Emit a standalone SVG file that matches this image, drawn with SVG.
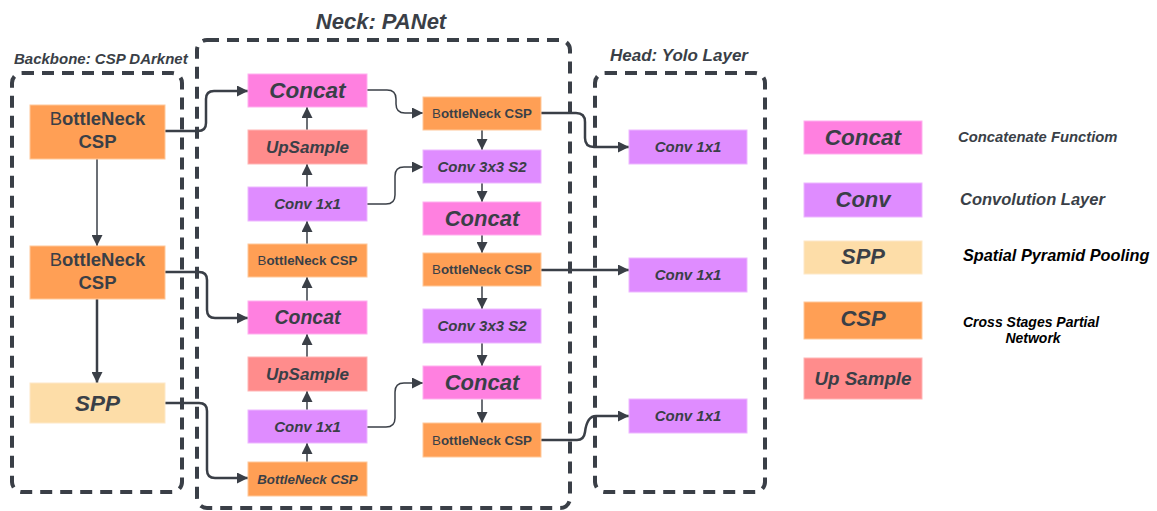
<svg xmlns="http://www.w3.org/2000/svg" width="1157" height="511" viewBox="0 0 1157 511">
<defs>
<style>
.grp{fill:none;stroke:#3a3f47;stroke-width:4;stroke-dasharray:12 8;}
.ttl{font-family:"Liberation Sans",Arial,sans-serif;font-style:italic;font-weight:bold;fill:#3a3f47;}
.t{font-family:"Liberation Sans",Arial,sans-serif;font-weight:bold;fill:#3a3f47;text-anchor:middle;}
.it{font-style:italic;}
.csp{fill:#ff9f55;stroke:#ffc89a;stroke-width:1;}
.cat{fill:#ff80e0;stroke:#ffb0ef;stroke-width:1;}
.cnv{fill:#df8cff;stroke:#edb8ff;stroke-width:1;}
.ups{fill:#ff8c8c;stroke:#ffb5b5;stroke-width:1;}
.spp{fill:#fddda8;stroke:#fde8c8;stroke-width:1;}
.thick{fill:none;stroke:#3a3f47;stroke-width:2.5;}
.thin{fill:none;stroke:#3a3f47;stroke-width:1.5;}
.lg{font-family:"Liberation Sans",Arial,sans-serif;font-style:italic;font-weight:bold;}
</style>
<marker id="ah" viewBox="0 0 10 10" refX="10" refY="5" markerWidth="14" markerHeight="11" markerUnits="userSpaceOnUse" orient="auto"><path d="M0,0 L10,5 L0,10 Z" fill="#3a3f47"/></marker>
<marker id="ahs" viewBox="0 0 10 10" refX="10" refY="5" markerWidth="13" markerHeight="11" markerUnits="userSpaceOnUse" orient="auto"><path d="M0,0 L10,5 L0,10 Z" fill="#3a3f47"/></marker>
</defs>
<rect width="1157" height="511" fill="#ffffff"/>

<g id="group-backbone">
<rect class="grp" x="12" y="73" width="170" height="419" rx="10"/>
<text class="ttl" x="14" y="64" font-size="15">Backbone: CSP DArknet</text>
</g>
<g id="group-neck">
<rect class="grp" x="197" y="40" width="373" height="468" rx="10"/>
<text class="ttl" x="381" y="29" font-size="22" text-anchor="middle">Neck: PANet</text>
</g>
<g id="group-head">
<rect class="grp" x="595" y="73" width="170" height="419" rx="10"/>
<text class="ttl" x="679" y="61" font-size="17" text-anchor="middle">Head: Yolo Layer</text>
</g>

<g id="connectors">
<line class="thin" x1="97" y1="159" x2="97" y2="246" marker-end="url(#ahs)"/>
<line class="thick" x1="97" y1="299" x2="97" y2="383" marker-end="url(#ah)"/>
<path class="thick" d="M165,131 H198 Q206,131 206,123 V99 Q206,91 214,91 H248" marker-end="url(#ah)"/>
<path class="thick" d="M165,272 H199 Q207,272 207,280 V310 Q207,318 215,318 H248" marker-end="url(#ah)"/>
<path class="thick" d="M165,403 H199 Q207,403 207,411 V470 Q207,478 215,478 H248" marker-end="url(#ah)"/>
<line class="thin" x1="307" y1="462" x2="307" y2="443" marker-end="url(#ahs)"/>
<line class="thin" x1="307" y1="410" x2="307" y2="391" marker-end="url(#ahs)"/>
<line class="thin" x1="307" y1="357" x2="307" y2="334" marker-end="url(#ahs)"/>
<line class="thin" x1="307" y1="301" x2="307" y2="277" marker-end="url(#ahs)"/>
<line class="thin" x1="307" y1="244" x2="307" y2="221" marker-end="url(#ahs)"/>
<line class="thin" x1="307" y1="187" x2="307" y2="164" marker-end="url(#ahs)"/>
<line class="thin" x1="307" y1="130" x2="307" y2="107" marker-end="url(#ahs)"/>
<path class="thin" d="M367,90 H387 Q396,90 396,99 V104 Q396,113 405,113 H423" marker-end="url(#ahs)"/>
<path class="thin" d="M367,204 H386 Q395,204 395,195 V176 Q395,167 404,167 H423" marker-end="url(#ahs)"/>
<path class="thin" d="M367,427 H386 Q395,427 395,418 V392 Q395,383 404,383 H423" marker-end="url(#ahs)"/>
<line class="thin" x1="482" y1="130" x2="482" y2="150" marker-end="url(#ahs)"/>
<line class="thin" x1="482" y1="183" x2="482" y2="202" marker-end="url(#ahs)"/>
<line class="thin" x1="482" y1="235" x2="482" y2="253" marker-end="url(#ahs)"/>
<line class="thin" x1="482" y1="286" x2="482" y2="309" marker-end="url(#ahs)"/>
<line class="thin" x1="482" y1="343" x2="482" y2="366" marker-end="url(#ahs)"/>
<line class="thin" x1="482" y1="399" x2="482" y2="423" marker-end="url(#ahs)"/>
<path class="thick" d="M541,113 H576 Q585,113 585,122 V138 Q585,147 594,147 H629" marker-end="url(#ah)"/>
<line class="thick" x1="541" y1="270" x2="629" y2="270" marker-end="url(#ah)"/>
<path class="thick" d="M541,440 H577 Q584,440 585,432 Q587,416 596,416 H629" marker-end="url(#ah)"/>
</g>

<g id="node-bb-csp1">
<rect class="csp" x="30" y="105" width="135" height="54"/>
<text class="t" x="97.5" y="125" font-size="18.5"><tspan font-weight="normal">B</tspan>ottleNeck</text>
<text class="t" x="97.5" y="148" font-size="18.5">CSP</text>
</g>
<g id="node-bb-csp2">
<rect class="csp" x="30" y="246" width="135" height="53"/>
<text class="t" x="97.5" y="266" font-size="18.5"><tspan font-weight="normal">B</tspan>ottleNeck</text>
<text class="t" x="97.5" y="289" font-size="18.5">CSP</text>
</g>
<g id="node-bb-spp">
<rect class="spp" x="30" y="383" width="135" height="40"/>
<text class="t it" x="97.5" y="411" font-size="22.5">SPP</text>
</g>

<g id="node-n-concat1">
<rect class="cat" x="248" y="74" width="119" height="33"/>
<text class="t it" x="307.5" y="98" font-size="22.5">Concat</text>
</g>
<g id="node-n-ups1">
<rect class="ups" x="248" y="130" width="119" height="34"/>
<text class="t it" x="307.5" y="153" font-size="17">UpSample</text>
</g>
<g id="node-n-conv1">
<rect class="cnv" x="248" y="187" width="119" height="34"/>
<text class="t it" x="307.5" y="209" font-size="15">Conv 1x1</text>
</g>
<g id="node-n-csp1">
<rect class="csp" x="248" y="244" width="119" height="33"/>
<text class="t" x="307.5" y="265" font-size="13.3"><tspan font-weight="normal">B</tspan>ottleNeck CSP</text>
</g>
<g id="node-n-concat2">
<rect class="cat" x="248" y="301" width="119" height="33"/>
<text class="t it" x="307.5" y="324" font-size="19.5">Concat</text>
</g>
<g id="node-n-ups2">
<rect class="ups" x="248" y="357" width="119" height="34"/>
<text class="t it" x="307.5" y="380" font-size="17">UpSample</text>
</g>
<g id="node-n-conv2">
<rect class="cnv" x="248" y="410" width="119" height="33"/>
<text class="t it" x="307.5" y="432" font-size="15">Conv 1x1</text>
</g>
<g id="node-n-csp2">
<rect class="csp" x="248" y="462" width="119" height="34"/>
<text class="t it" x="307.5" y="484" font-size="13.3">BottleNeck CSP</text>
</g>

<g id="node-n-csp3">
<rect class="csp" x="423" y="97" width="118" height="33"/>
<text class="t" x="482" y="118" font-size="13.3"><tspan font-weight="normal">B</tspan>ottleNeck CSP</text>
</g>
<g id="node-n-conv3">
<rect class="cnv" x="423" y="150" width="118" height="33"/>
<text class="t it" x="482" y="172" font-size="15">Conv 3x3 S2</text>
</g>
<g id="node-n-concat3">
<rect class="cat" x="423" y="202" width="118" height="33"/>
<text class="t it" x="482" y="226" font-size="22">Concat</text>
</g>
<g id="node-n-csp4">
<rect class="csp" x="423" y="253" width="118" height="33"/>
<text class="t" x="482" y="274" font-size="13.3"><tspan font-weight="normal">B</tspan>ottleNeck CSP</text>
</g>
<g id="node-n-conv4">
<rect class="cnv" x="423" y="309" width="118" height="34"/>
<text class="t it" x="482" y="331" font-size="15">Conv 3x3 S2</text>
</g>
<g id="node-n-concat4">
<rect class="cat" x="423" y="366" width="118" height="33"/>
<text class="t it" x="482" y="390" font-size="22">Concat</text>
</g>
<g id="node-n-csp5">
<rect class="csp" x="423" y="423" width="118" height="34"/>
<text class="t" x="482" y="445" font-size="13.3"><tspan font-weight="normal">B</tspan>ottleNeck CSP</text>
</g>

<g id="node-h-conv1">
<rect class="cnv" x="629" y="130" width="118" height="34"/>
<text class="t it" x="688" y="152" font-size="15">Conv 1x1</text>
</g>
<g id="node-h-conv2">
<rect class="cnv" x="629" y="258" width="118" height="34"/>
<text class="t it" x="688" y="280" font-size="15">Conv 1x1</text>
</g>
<g id="node-h-conv3">
<rect class="cnv" x="629" y="399" width="118" height="34"/>
<text class="t it" x="688" y="421" font-size="15">Conv 1x1</text>
</g>

<g id="legend-concat">
<rect class="cat" x="804" y="121" width="118" height="33"/>
<text class="t it" x="863" y="145" font-size="22.5">Concat</text>
<text class="lg" x="958" y="142" font-size="14.8" fill="#3a3f47">Concatenate Functiom</text>
</g>
<g id="legend-conv">
<rect class="cnv" x="804" y="183" width="118" height="34"/>
<text class="t it" x="863" y="207" font-size="22">Conv</text>
<text class="lg" x="960" y="205" font-size="16.5" fill="#3a3f47">Convolution Layer</text>
</g>
<g id="legend-spp">
<rect class="spp" x="804" y="241" width="118" height="33"/>
<text class="t it" x="863" y="264" font-size="22">SPP</text>
<text class="lg" x="963" y="261" font-size="16.3" fill="#000000">Spatial Pyramid Pooling</text>
</g>
<g id="legend-csp">
<rect class="csp" x="804" y="302" width="118" height="37"/>
<text class="t it" x="863" y="326" font-size="22">CSP</text>
<text class="lg" x="963" y="327" font-size="14" fill="#000000">Cross Stages Partial</text>
<text class="lg" x="1033" y="343" font-size="14" fill="#000000" text-anchor="middle">Network</text>
</g>
<g id="legend-ups">
<rect class="ups" x="804" y="358" width="118" height="41"/>
<text class="t it" x="863" y="385" font-size="18.8">Up Sample</text>
</g>
</svg>
